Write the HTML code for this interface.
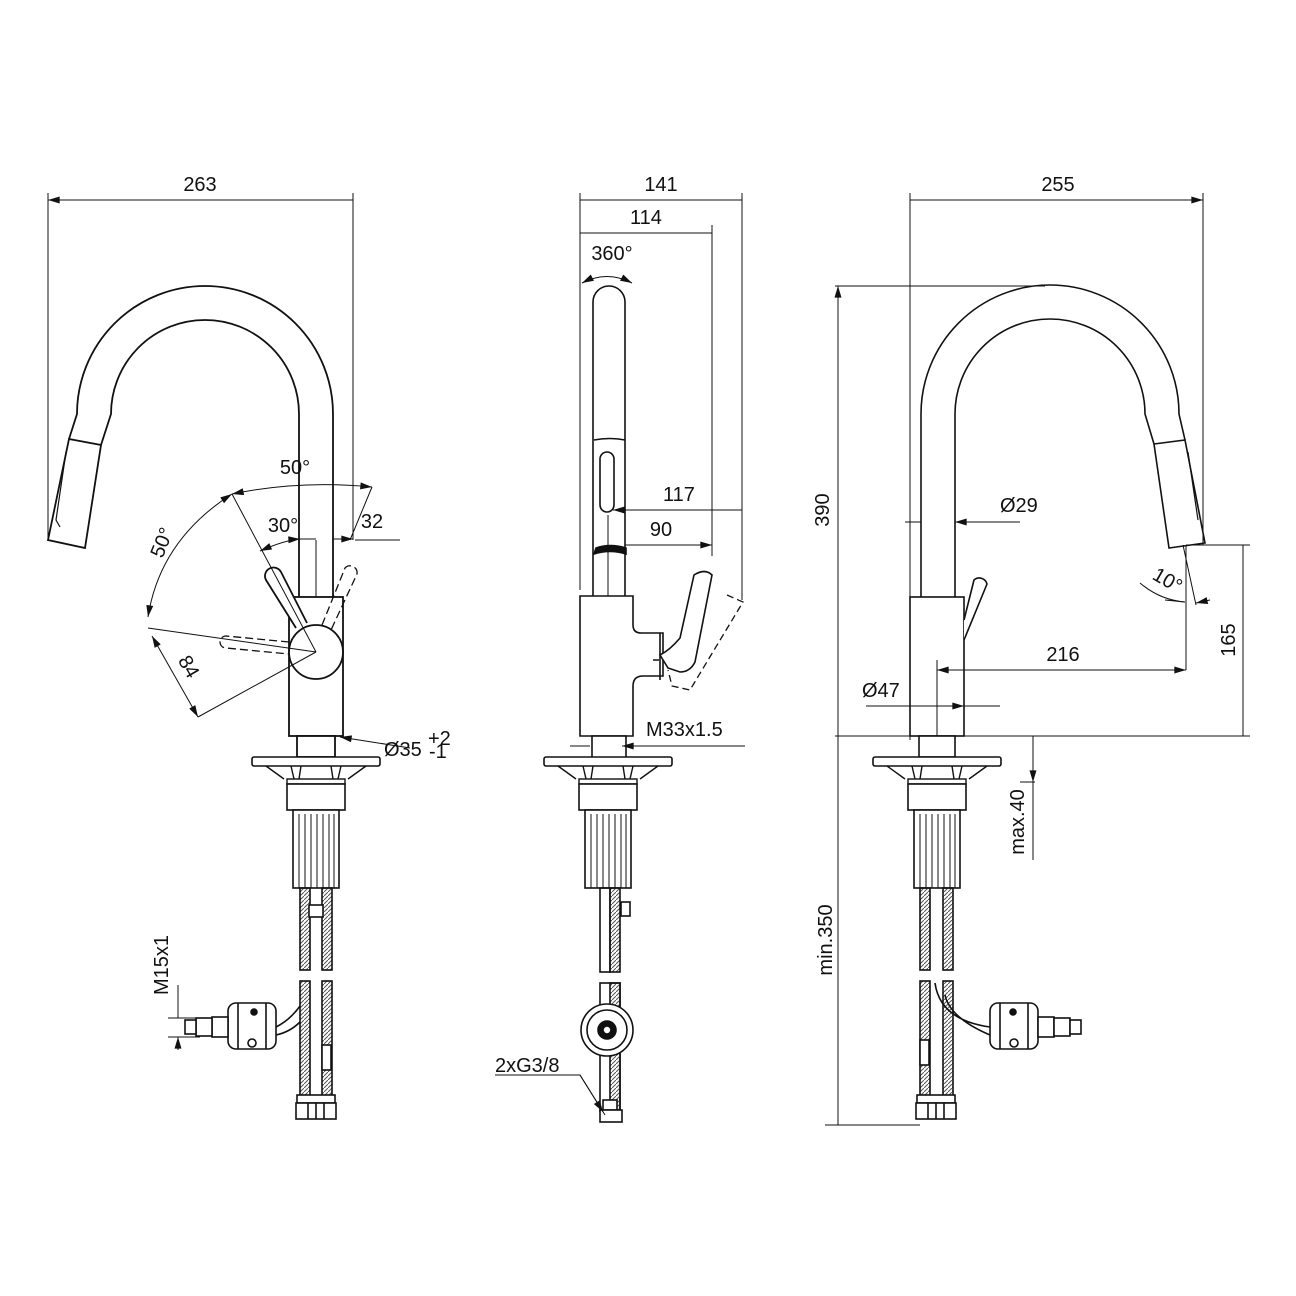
<!DOCTYPE html>
<html><head><meta charset="utf-8"><style>
html,body{margin:0;padding:0;background:#fff}
svg{display:block}
text{font-family:"Liberation Sans",sans-serif;font-size:20px;fill:#111}
</style></head><body>
<svg width="1296" height="1296" viewBox="0 0 1296 1296" xmlns="http://www.w3.org/2000/svg">
<defs>
<marker id="a" viewBox="0 0 10 6" refX="10" refY="3" markerWidth="14" markerHeight="7" markerUnits="userSpaceOnUse" orient="auto-start-reverse"><path d="M0,0L10,3L0,6z" fill="#111"/></marker>
<pattern id="h" width="4" height="4" patternUnits="userSpaceOnUse"><path d="M0,4L4,0" stroke="#555" stroke-width="1"/></pattern>
<g id="base">
 <rect x="-64" y="0" width="128" height="9" rx="2" fill="#fff" stroke="#111" stroke-width="1.6"/>
 <path d="M-50,9L-32,22M50,9L32,22M-25,9L-22,22M-15,9L-17,22M15,9L17,22M25,9L22,22" stroke="#111" stroke-width="1.4"/>
 <rect x="-29" y="22" width="58" height="5" fill="#fff" stroke="#111" stroke-width="1.4"/>
 <rect x="-29" y="27" width="58" height="26" fill="#fff" stroke="#111" stroke-width="1.6"/>
 <rect x="-23" y="53" width="46" height="78" fill="#fff" stroke="#111" stroke-width="1.6"/>
 <path d="M-17,57V131M-11,57V131M-5,57V131M1,57V131M7,57V131M13,57V131M18,57V131" stroke="#111" stroke-width="1"/>
</g>
</defs>
<g fill="none" stroke="#111" stroke-width="1.8">
<path d="M333,597V414A128,128 0 0 0 77,414L69,439"/>
<path d="M299,597V414A94,94 0 0 0 111,414L101,445"/>
<path d="M69,439L101,445L85,548L48,540Z"/>
<path d="M66,452L56,520L60,527" stroke-width="1.2"/>
<rect x="289" y="597" width="54" height="139" fill="#fff"/>
<path d="M296,628L266,580A8,8 0 0 1 281,572L307,623" fill="#fff"/>
<circle cx="316" cy="652" r="27" fill="#fff"/>
<path d="M289,642L226,636A6,6 0 0 0 226,648L289,654" stroke-dasharray="8,4" stroke-width="1.3"/>
<path d="M322,625L345,568A7,7 0 0 1 357,574L331,630" stroke-dasharray="8,4" stroke-width="1.3"/>
<rect x="297" y="736" width="38" height="21" fill="#fff"/>
</g>
<use href="#base" x="316" y="757"/>
<g fill="none" stroke="#111" stroke-width="1.6">
<rect x="300" y="888" width="10" height="82" fill="url(#h)"/><rect x="322" y="888" width="10" height="82" fill="url(#h)"/>
<rect x="300" y="981" width="10" height="124" fill="url(#h)"/><rect x="322" y="981" width="10" height="124" fill="url(#h)"/>
<rect x="309" y="905" width="14" height="12" fill="#fff"/>
<rect x="322" y="1045" width="9" height="25" fill="#fff"/>
<rect x="297" y="1095" width="38" height="8" fill="#fff"/>
<rect x="296" y="1103" width="40" height="16" fill="#fff"/>
<path d="M308,1103V1119M316,1103V1119M324,1103V1119"/>
<path d="M300,1006Q290,1020 276,1027M300,1022Q290,1032 276,1035"/>
<rect x="228" y="1003" width="48" height="46" rx="8" fill="#fff"/>
<path d="M238,1003V1049M266,1003V1049"/>
<circle cx="254" cy="1012" r="3" fill="#111"/><circle cx="252" cy="1043" r="4"/>
<rect x="212" y="1017" width="16" height="20" fill="#fff"/><rect x="196" y="1018" width="16" height="18" fill="#fff"/><rect x="185" y="1020" width="11" height="14" fill="#fff"/>
<path d="M593,596V302A16,16 0 0 1 625,302V596"/>
<path d="M594,440Q610,437 625,440"/>
<path d="M596,548Q610,543 626,548L626,554Q610,549 594,554Z" fill="#111"/>
<rect x="600" y="452" width="14" height="60" rx="7"/>
<path d="M608,515V596" stroke-width="1"/>
<path d="M580,596H633V625Q633,633 641,633H663V676H643Q633,676 633,686V736H580Z" fill="#fff"/>
<path d="M660,633V680M653,660H659"/>
<path d="M694,575Q705,568 712,575L695,662Q690,672 680,672L668,668L660,655Q670,650 680,638Z" fill="#fff"/>
<path d="M727,595L743,602L690,690L672,686L668,670" stroke-dasharray="7,4" stroke-width="1.3"/>
<rect x="592" y="736" width="34" height="24" fill="#fff"/>
</g>
<use href="#base" x="608" y="757"/>
<g fill="none" stroke="#111" stroke-width="1.6">
<rect x="600" y="888" width="10" height="84" /><rect x="610" y="888" width="10" height="84" fill="url(#h)"/>
<rect x="621" y="902" width="9" height="14" fill="#fff"/>
<rect x="600" y="983" width="20" height="128"/><rect x="610" y="983" width="10" height="128" fill="url(#h)"/>
<circle cx="607" cy="1030" r="26" fill="#fff"/><circle cx="607" cy="1030" r="20"/>
<circle cx="607" cy="1030" r="9" fill="#111"/><circle cx="607" cy="1030" r="4" fill="#fff"/>
<rect x="603" y="1100" width="14" height="10" fill="#fff"/><rect x="600" y="1110" width="22" height="12" fill="#fff"/>
<path d="M921,597V414A129,129 0 0 1 1179,414L1185,440"/>
<path d="M955,597V414A95,95 0 0 1 1145,414L1154,444"/>
<path d="M1154,444L1185,440L1205,543L1169,548Z"/>
<path d="M1188,452L1198,520" stroke-width="1.2"/>
<rect x="910" y="597" width="54" height="139" fill="#fff"/>
<path d="M964,620L974,580A8,8 0 0 1 987,584L964,640" fill="#fff"/>
<rect x="919" y="736" width="36" height="21" fill="#fff"/>
</g>
<use href="#base" x="937" y="757"/>
<g fill="none" stroke="#111" stroke-width="1.6">
<rect x="920" y="888" width="10" height="82" fill="url(#h)"/><rect x="943" y="888" width="10" height="82" fill="url(#h)"/>
<rect x="920" y="981" width="10" height="124" fill="url(#h)"/><rect x="943" y="981" width="10" height="124" fill="url(#h)"/>
<rect x="920" y="1040" width="9" height="25" fill="#fff"/>
<rect x="917" y="1095" width="38" height="8" fill="#fff"/>
<rect x="916" y="1103" width="40" height="16" fill="#fff"/>
<path d="M928,1103V1119M936,1103V1119M944,1103V1119"/>
<path d="M935,983Q940,1020 990,1027M945,995Q950,1018 990,1035"/>
<rect x="990" y="1003" width="48" height="46" rx="8" fill="#fff"/>
<path d="M1000,1003V1049M1028,1003V1049"/>
<circle cx="1013" cy="1012" r="3" fill="#111"/><circle cx="1014" cy="1043" r="4"/>
<rect x="1038" y="1017" width="16" height="20" fill="#fff"/><rect x="1054" y="1018" width="16" height="18" fill="#fff"/><rect x="1070" y="1020" width="11" height="14" fill="#fff"/>
</g>
<g fill="none" stroke="#111" stroke-width="1">
<path d="M48,193V540M353,193V540M580,193V590M742,193V600M712,225V556M910,193V740M1203,193V545"/>
<path d="M48,200H353M580,200H742M580,233H712M910,200H1203" marker-start="url(#a)" marker-end="url(#a)"/>
<path d="M582,283Q607,270 632,283" marker-start="url(#a)" marker-end="url(#a)"/>
<path d="M613,510H742M625,545H712" marker-start="url(#a)" marker-end="url(#a)"/>
<path d="M570,746H590M640,746H622" marker-end="url(#a)"/><path d="M640,746H745"/>
<path d="M410,748L340,737" marker-end="url(#a)"/>
<path d="M316,652L232,494M316,652L148,628M316,652L198,717M350,540L372,487M355,540L400,540M316,540V597"/>
<path d="M232,494Q300,480 372,487" marker-start="url(#a)" marker-end="url(#a)"/>
<path d="M148,617Q160,540 232,494" marker-start="url(#a)" marker-end="url(#a)"/>
<path d="M260,551Q285,540 300,539" marker-start="url(#a)" marker-end="url(#a)"/>
<path d="M300,539H316M333,539H353" marker-end="url(#a)"/>
<path d="M152,636L198,717" marker-start="url(#a)" marker-end="url(#a)"/>
<path d="M178,985V1018M178,1050V1037" marker-end="url(#a)"/>
<path d="M168,1018H200M168,1037H200"/>
<path d="M495,1075H580L605,1115" /><path d="M580,1075L603,1112" marker-end="url(#a)"/>
<path d="M835,286H1045M835,736H1250M1186,545H1250"/>
<path d="M838,286V736M838,736V1125M1243,545V736M1033,736V782" marker-start="url(#a)" marker-end="url(#a)"/>
<path d="M825,1125H920M1020,782H1035M1033,782V860"/>
<path d="M1186,545V670M937,660V736" />
<path d="M937,670H1186" marker-start="url(#a)" marker-end="url(#a)"/>
<path d="M905,522H921M1020,522H955" marker-end="url(#a)"/><path d="M955,522H1020"/>
<path d="M866,706H910M1000,706H964"/>
<path d="M937,706H910M937,706H964" marker-end="url(#a)"/>
<path d="M1183,545L1196,605M1140,583Q1160,600 1185,602" /><path d="M1165,600L1185,602M1210,600L1196,603" marker-end="url(#a)"/>
</g>
<g>
<text x="200" y="191" text-anchor="middle">263</text>
<text x="661" y="191" text-anchor="middle">141</text>
<text x="646" y="224" text-anchor="middle">114</text>
<text x="612" y="260" text-anchor="middle">360°</text>
<text x="679" y="501" text-anchor="middle">117</text>
<text x="661" y="536" text-anchor="middle">90</text>
<text x="646" y="736">M33x1.5</text>
<text x="1058" y="191" text-anchor="middle">255</text>
<text x="1000" y="512">Ø29</text>
<text x="1063" y="661" text-anchor="middle">216</text>
<text x="862" y="697">Ø47</text>
<text x="1152" y="585" transform="rotate(30 1164 580)" font-size="17">10°</text>
<text x="384" y="756">Ø35</text>
<text x="428" y="745" font-size="11">+2</text>
<text x="429" y="758" font-size="11">-1</text>
<text x="295" y="474" text-anchor="middle">50°</text>
<text x="283" y="532" text-anchor="middle">30°</text>
<text x="372" y="528" text-anchor="middle">32</text>
<text x="495" y="1072">2xG3/8</text>
<text transform="translate(168,545) rotate(-68)" text-anchor="middle">50°</text>
<text transform="translate(183,670) rotate(60)" text-anchor="middle">84</text>
<text transform="translate(829,510) rotate(-90)" text-anchor="middle">390</text>
<text transform="translate(1235,640) rotate(-90)" text-anchor="middle">165</text>
<text transform="translate(1024,822) rotate(-90)" text-anchor="middle">max.40</text>
<text transform="translate(832,940) rotate(-90)" text-anchor="middle">min.350</text>
<text transform="translate(168,965) rotate(-90)" text-anchor="middle">M15x1</text>
</g>
</svg>
</body></html>
